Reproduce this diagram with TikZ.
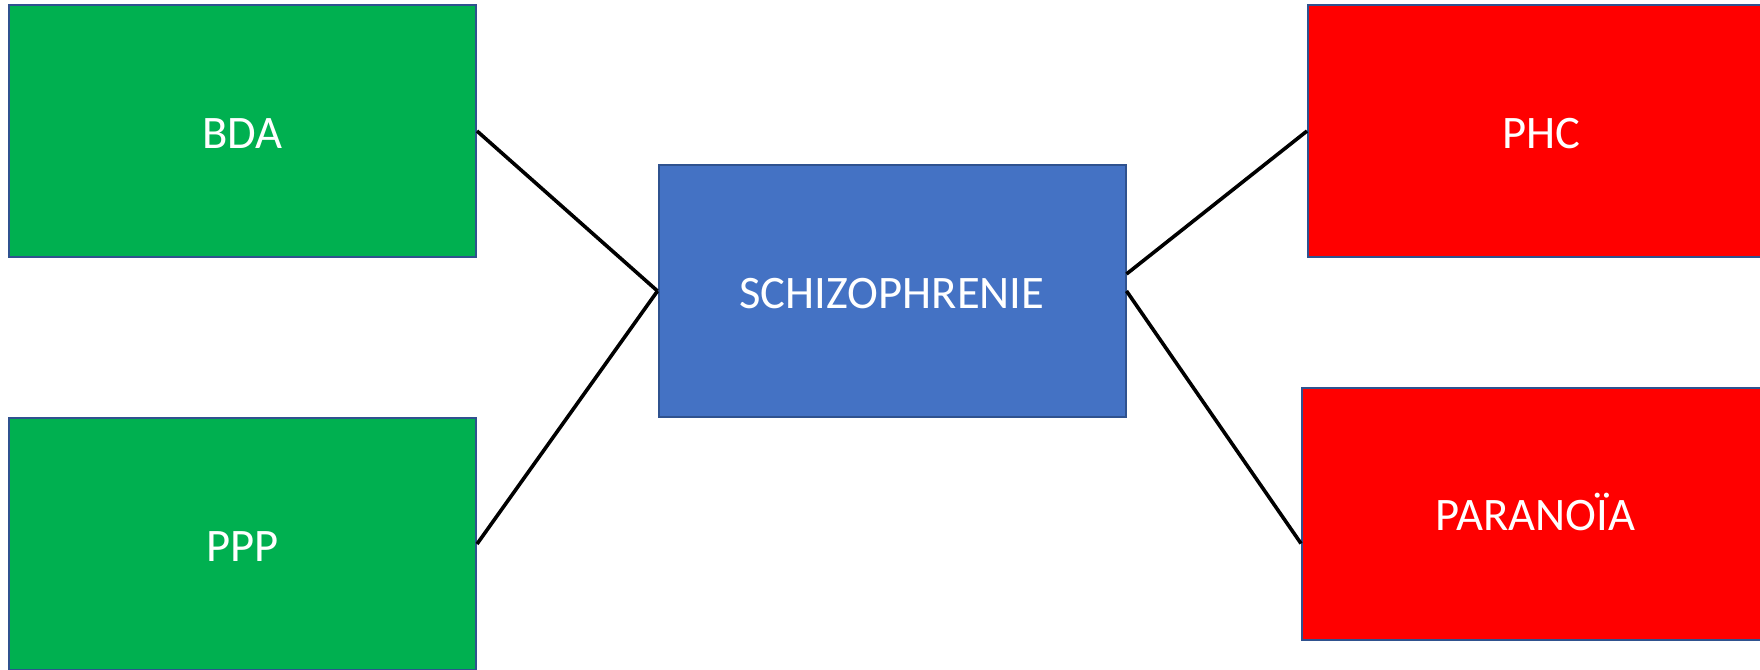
\documentclass[tikz,border=0pt]{standalone}
\usepackage{fontspec}
\setmainfont{Carlito}
\definecolor{bgreen}{HTML}{00B050}
\definecolor{bblue}{HTML}{4472C4}
\definecolor{bred}{HTML}{FF0000}
\definecolor{bedge}{HTML}{2F528F}
\tikzset{
  box/.style={draw=bedge, line width=1pt, minimum width=233.5pt, minimum height=126pt,
    inner sep=0pt, text=white, font=\fontsize{23.3}{28}\selectfont,
    text depth=0pt, text height=17pt},
  link/.style={draw=black, line width=1.8pt}
}
\begin{document}
\begin{tikzpicture}[x=0.5pt, y=-0.5pt]
\clip (0,0) rectangle (1760,669);
\fill[white] (0,0) rectangle (1760,669);
\node[box, fill=bgreen] (bda) at (242.5,131) {BDA};
\node[box, fill=bgreen] (ppp) at (242.5,544) {PPP};
\node[box, fill=bblue] (sch) at (892,291) {SCHIZOPHRENIE};
\node[box, fill=bred] (phc) at (1541.5,131) {PHC};
\node[box, fill=bred] (par) at (1535.5,513.5) {PARANOÏA};
\coordinate (schr) at ([yshift=8.5pt]sch.east);
\coordinate (parl) at ([yshift=-15pt]par.west);
\draw[link] (bda.east) -- (sch.west);
\draw[link] (ppp.east) -- (sch.west);
\draw[link] (schr) -- (phc.west);
\draw[link] (sch.east) -- (parl);
\end{tikzpicture}
\end{document}
